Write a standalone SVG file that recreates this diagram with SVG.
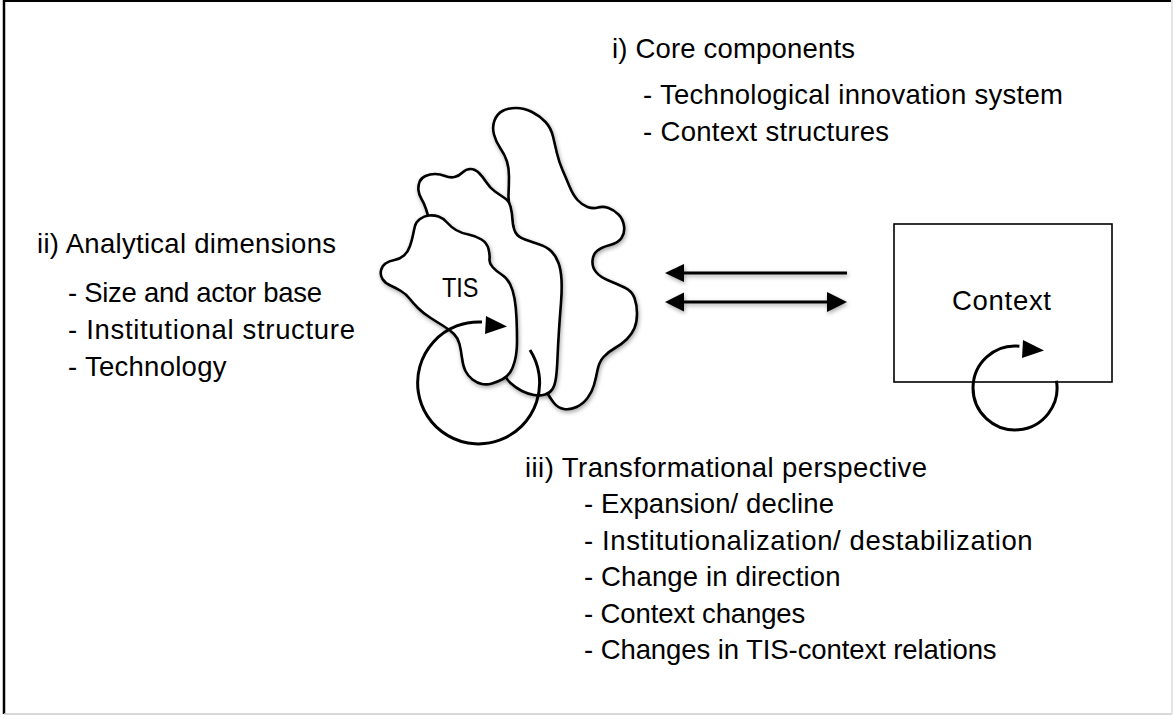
<svg xmlns="http://www.w3.org/2000/svg" width="1173" height="715" viewBox="0 0 1173 715">
<style>
.t{font-family:"Liberation Sans",Arial,sans-serif;font-size:27.5px;fill:#000}
.blob{fill:#fff;stroke:#000;stroke-width:2.6;stroke-linejoin:round;filter:url(#sh)}
.cyc{fill:none;stroke:#000;stroke-width:3}
.ar{stroke:#000;stroke-width:3.2;fill:none}
.hd{fill:#000;stroke:none}
</style>
<defs>
<filter id="sh" x="-10%" y="-10%" width="130%" height="130%">
<feDropShadow dx="1" dy="2" stdDeviation="2" flood-color="#000" flood-opacity="0.35"/>
</filter>
</defs>
<rect x="0" y="0" width="1173" height="715" fill="#fff"/>
<g id="frame">
<line x1="4" y1="1" x2="1171" y2="1" stroke="#000" stroke-width="2"/>
<line x1="4" y1="0" x2="4" y2="714" stroke="#000" stroke-width="2.5"/>
<line x1="4" y1="714" x2="1172" y2="714" stroke="#ccc" stroke-width="1.5"/>
<line x1="1172" y1="0" x2="1172" y2="714" stroke="#ddd" stroke-width="1.5"/>
</g>
<g id="blob-back">
<path class="blob" d="M494,134.5 Q492,127 494.5,120.5 Q497,114 502.5,111 Q508,108 516,108 Q524,108 532,112 Q540,116 545.5,122 Q551,128 553,136.5 Q555,145 557,153.5 Q559,162 562.5,170 Q566,178 569.5,186.5 Q573,195 577.5,200 Q582,205 587.5,207 Q593,209 598,207.5 Q603,206 608.5,208 Q614,210 618.5,214.5 Q623,219 624,226 Q625,233 621.5,238 Q618,243 610,245 Q602,247 597.5,250.5 Q593,254 592.5,260.5 Q592,267 596,272 Q600,277 608.5,280.5 Q617,284 624.5,287.5 Q632,291 634.5,298 Q637,305 637,313.5 Q637,322 634.5,328 Q632,334 627,339 Q622,344 615,348 Q608,352 603.5,357 Q599,362 597.5,370 Q596,378 594,385 Q592,392 587.5,398 Q583,404 576.5,407 Q570,410 564,409 Q558,408 554,403 Q550,398 545,389 Q540,380 535,340 Q530,300 519,252.5 Q508,205 508.5,195 Q509,185 509,176.5 Q509,168 507,161.5 Q505,155 500.5,148.5 Q496,142 494,134.5 Z"/>
</g>
<g id="blob-middle">
<path class="blob" d="M418.5,190.5 Q418,186 419.5,182 Q421,178 425.5,176 Q430,174 435,174 Q440,174 445,176 Q450,178 454.5,177 Q459,176 462.5,172.5 Q466,169 470.5,169 Q475,169 479,173 Q483,177 486.5,182.5 Q490,188 495,191.5 Q500,195 504.5,198 Q509,201 510.5,206.5 Q512,212 512.5,220 Q513,228 515.5,232.5 Q518,237 525,239.5 Q532,242 539.5,244.5 Q547,247 551.5,251.5 Q556,256 558.5,263 Q561,270 561.5,280 Q562,290 561,302.5 Q560,315 559,330 Q558,345 557.5,357.5 Q557,370 556,377.5 Q555,385 552.5,389 Q550,393 545,394.5 Q540,396 534,395 Q528,394 522,391 Q516,388 510.5,383 Q505,378 492.5,354 Q480,330 460,295 Q440,260 434,237.5 Q428,215 426,209 Q424,203 421.5,199 Q419,195 418.5,190.5 Z"/>
</g>
<g id="tis">
<path class="blob" d="M415,226 Q416,222 420,219 Q424,216 429,215.5 Q434,215 438.5,216.5 Q443,218 447,222.5 Q451,227 456,230 Q461,233 468.5,234.5 Q476,236 481.5,239.5 Q487,243 488.5,249 Q490,255 489.5,259 Q489,263 492.5,267 Q496,271 501.5,274.5 Q507,278 510,284 Q513,290 514.5,298.5 Q516,307 516.5,318.5 Q517,330 517,341 Q517,352 515,360 Q513,368 510,372.5 Q507,377 502,379.5 Q497,382 492,383.5 Q487,385 482,384 Q477,383 472.5,379.5 Q468,376 465.5,371 Q463,366 462,358 Q461,350 459.5,344 Q458,338 454,334 Q450,330 443.5,326 Q437,322 430,317.5 Q423,313 418,308 Q413,303 409.5,298.5 Q406,294 401,291 Q396,288 390.5,285.5 Q385,283 382.5,279 Q380,275 381,270.5 Q382,266 385.5,263.5 Q389,261 394.5,260 Q400,259 404,255.5 Q408,252 410,246 Q412,240 413,235 Q414,230 415,226 Z"/>
<text class="t" x="442" y="297" textLength="36.5" lengthAdjust="spacingAndGlyphs">TIS</text>
</g>
<g id="tis-cycle">
<path class="cyc" d="M530,350 A61,61 0 1 1 482,322"/>
<polygon class="hd" points="486,316 507,326.5 485,334"/>
</g>
<g id="context">
<rect x="894" y="224" width="218" height="158" fill="none" stroke="#000" stroke-width="1.6"/>
<text class="t" x="952" y="310" textLength="99" lengthAdjust="spacing">Context</text>
</g>
<g id="context-cycle">
<path class="cyc" d="M1056.4,380.7 A42,42 0 1 1 1019.4,346.2"/>
<polygon class="hd" points="1023,340 1044,350.5 1022,358"/>
</g>
<g id="connectors">
<g filter="url(#sh)">
<line class="ar" x1="847" y1="273" x2="680" y2="273"/>
<polygon class="hd" points="665,273 684,264 684,282"/>
<line class="ar" x1="680" y1="302" x2="830" y2="302"/>
<polygon class="hd" points="665,302 684,292.5 684,311.5"/>
<polygon class="hd" points="847,302 827,292 827,312"/>
</g>
</g>
<g id="core-components">
<text class="t" x="612" y="58" textLength="243" lengthAdjust="spacing">i) Core components</text>
<text class="t" x="643" y="104" textLength="420" lengthAdjust="spacing">- Technological innovation system</text>
<text class="t" x="643" y="141" textLength="246" lengthAdjust="spacing">- Context structures</text>
</g>
<g id="analytical-dimensions">
<text class="t" x="37" y="253" textLength="299" lengthAdjust="spacing">ii) Analytical dimensions</text>
<text class="t" x="68" y="302" textLength="254" lengthAdjust="spacing">- Size and actor base</text>
<text class="t" x="68" y="339" textLength="287" lengthAdjust="spacing">- Institutional structure</text>
<text class="t" x="68" y="375.5" textLength="158.5" lengthAdjust="spacing">- Technology</text>
</g>
<g id="transformational-perspective">
<text class="t" x="525" y="477" textLength="402" lengthAdjust="spacing">iii) Transformational perspective</text>
<text class="t" x="584" y="513" textLength="250" lengthAdjust="spacing">- Expansion/ decline</text>
<text class="t" x="584" y="549.5" textLength="448.6" lengthAdjust="spacing">- Institutionalization/ destabilization</text>
<text class="t" x="584" y="586" textLength="256.5" lengthAdjust="spacing">- Change in direction</text>
<text class="t" x="584" y="622.5" textLength="221.3" lengthAdjust="spacing">- Context changes</text>
<text class="t" x="584" y="659" textLength="412.6" lengthAdjust="spacing">- Changes in TIS-context relations</text>
</g>
</svg>
